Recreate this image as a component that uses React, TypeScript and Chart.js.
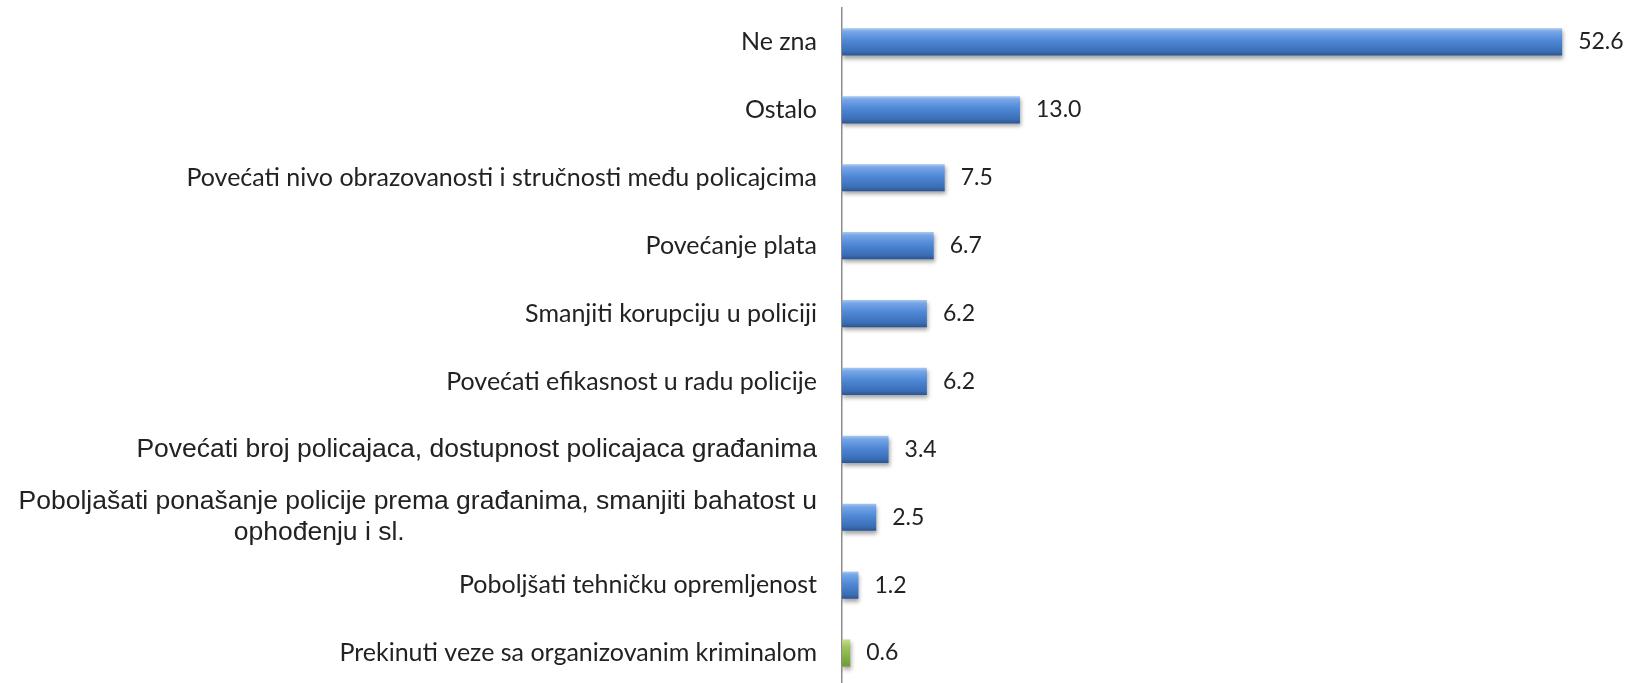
import React, { useEffect, useRef } from "react";
import { Chart, registerables } from "chart.js";

Chart.register(...registerables);

const categories: (string | string[])[] = [
  "Ne zna",
  "Ostalo",
  "Povećati nivo obrazovanosti i stručnosti među policajcima",
  "Povećanje plata",
  "Smanjiti korupciju u policiji",
  "Povećati efikasnost u radu policije",
  "Povećati broj policajaca, dostupnost policajaca građanima",
  [
    "Poboljašati ponašanje policije prema građanima, smanjiti bahatost u",
    "ophođenju i sl." + " ".repeat(56),
  ],
  "Poboljšati tehničku opremljenost",
  "Prekinuti veze sa organizovanim kriminalom",
];

const values: number[] = [52.6, 13.0, 7.5, 6.7, 6.2, 6.2, 3.4, 2.5, 1.2, 0.6];

const arialLabelIndexes: number[] = [6, 7];
const greenIndexes: number[] = [9];

const AXIS_X = 842;

const barStylePlugin = {
  id: "barStyle",
  beforeDatasetsDraw(chart: any) {
    const ctx = chart.ctx;
    const meta = chart.getDatasetMeta(0);
    meta.data.forEach((el: any, i: number) => {
      const top = el.y - el.height / 2;
      const bottom = el.y + el.height / 2;
      const g = ctx.createLinearGradient(0, top, 0, bottom);
      if (greenIndexes.includes(i)) {
        g.addColorStop(0, "#c5de8f");
        g.addColorStop(0.3, "#9bc35a");
        g.addColorStop(1, "#6f9a34");
      } else {
        g.addColorStop(0, "#a7c7f0");
        g.addColorStop(0.12, "#76a6e6");
        g.addColorStop(0.45, "#4f88d6");
        g.addColorStop(0.85, "#3a6db5");
        g.addColorStop(1, "#2a5590");
      }
      el.options.backgroundColor = g;
    });
    ctx.save();
    ctx.shadowColor = "rgba(0,0,0,0.35)";
    ctx.shadowOffsetX = 1;
    ctx.shadowOffsetY = 3;
    ctx.shadowBlur = 4;
  },
  afterDatasetsDraw(chart: any) {
    const ctx = chart.ctx;
    ctx.restore();
    const meta = chart.getDatasetMeta(0);
    ctx.save();
    ctx.font = "23px Lato, 'Open Sans', sans-serif";
    ctx.fillStyle = "#222";
    ctx.textAlign = "left";
    ctx.textBaseline = "middle";
    meta.data.forEach((el: any, i: number) => {
      ctx.fillText(values[i].toFixed(1), el.x + 16, el.y);
    });
    ctx.restore();
  },
};

export default function App() {
  const ref = useRef<HTMLCanvasElement | null>(null);
  useEffect(() => {
    if (!ref.current) return;
    const chart = new Chart(ref.current, {
      type: "bar",
      data: {
        labels: categories,
        datasets: [
          {
            data: values,
            backgroundColor: (c: any) => (greenIndexes.includes(c.dataIndex) ? "#9bbb59" : "#4f81bd"),
            borderWidth: 0,
            barPercentage: 0.8,
            categoryPercentage: 0.5,
          },
        ],
      },
      options: {
        indexAxis: "y",
        animation: false,
        responsive: false,
        maintainAspectRatio: false,
        layout: { padding: { top: 8, right: 43, bottom: 0, left: 0 } },
        plugins: { legend: { display: false }, tooltip: { enabled: false } },
        scales: {
          x: {
            display: false,
            min: 0,
            max: 55,
          },
          y: {
            grid: { display: false, drawTicks: false },
            border: { display: true, color: "#8c8c8c", width: 1.5 },
            ticks: {
              padding: 25,
              color: "#222",
              autoSkip: false,
              font: (c: any) =>
                arialLabelIndexes.includes(c.index)
                  ? { family: "'Liberation Sans', Arial, sans-serif", size: 26.5, lineHeight: 1.2 }
                  : { family: "Lato, 'Open Sans', sans-serif", size: 25, lineHeight: 1.2 },
            },
            afterFit(scale: any) {
              scale.width = AXIS_X;
              scale.paddingTop = 0;
              scale.paddingBottom = 0;
            },
          },
        },
      },
      plugins: [barStylePlugin],
    });
    return () => chart.destroy();
  }, []);
  return (
    <div style={{ position: "fixed", left: 0, top: 0, width: 1638, height: 687, background: "#fff" }}>
      <canvas ref={ref} width={1638} height={687} style={{ display: "block" }} />
    </div>
  );
}
